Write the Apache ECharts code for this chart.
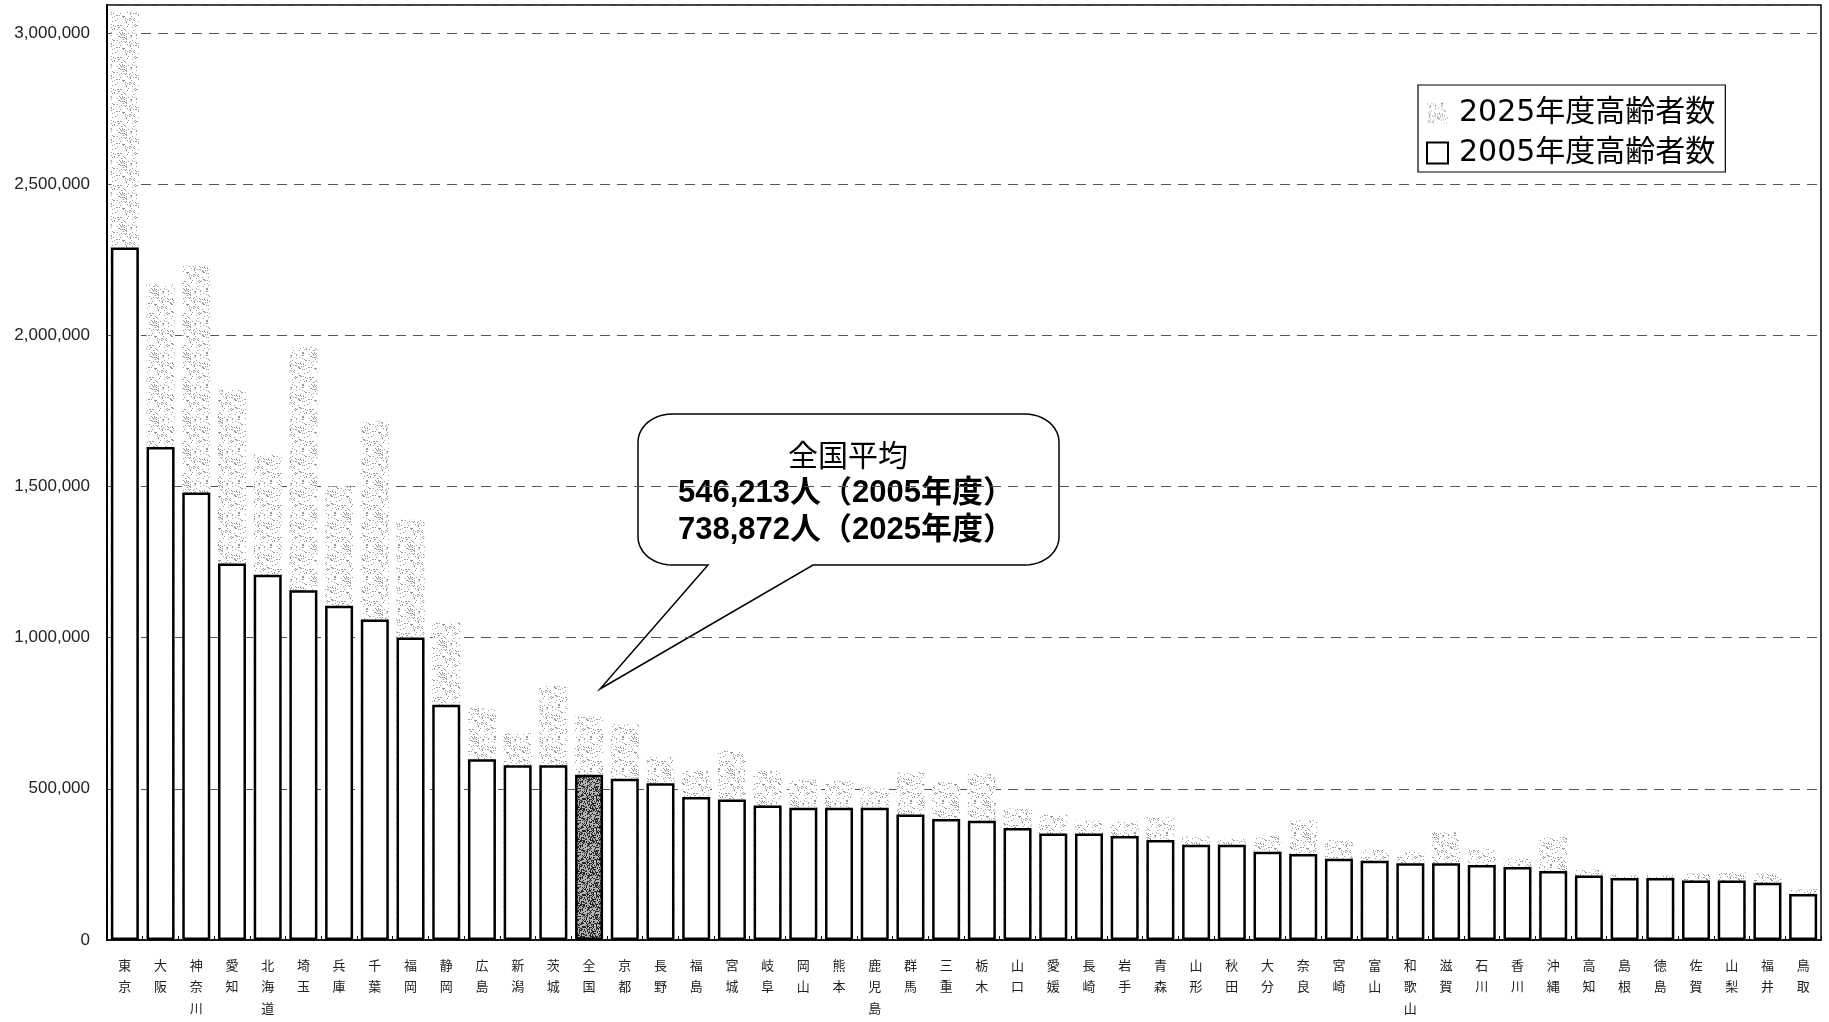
<!DOCTYPE html>
<html>
<head>
<meta charset="utf-8">
<script src="https://cdn.jsdelivr.net/npm/echarts@6/dist/echarts.min.js"></script>
<style>
  html, body { margin: 0; padding: 0; background: #fff; }
  #chart { width: 1829px; height: 1022px; }
</style>
</head>
<body>
<div id="chart"></div>
<script>
// 都道府県別 高齢者数（2005年度実績・2025年度推計）
const categories = ['東京','大阪','神奈川','愛知','北海道','埼玉','兵庫','千葉','福岡','静岡','広島','新潟','茨城','全国','京都','長野','福島','宮城','岐阜','岡山','熊本','鹿児島','群馬','三重','栃木','山口','愛媛','長崎','岩手','青森','山形','秋田','大分','奈良','宮崎','富山','和歌山','滋賀','石川','香川','沖縄','高知','島根','徳島','佐賀','山梨','福井','鳥取'];

const elderly2005 = [2290000,1630000,1480000,1245000,1208000,1157000,1105000,1060000,1000000,778000,598000,578000,578000,546213,533000,518000,473000,465000,445000,437000,437000,437000,415000,400000,394000,370000,352000,352000,344000,331000,315000,315000,292000,284000,269000,262000,254000,254000,248000,241000,228000,213000,205000,205000,197000,197000,189000,152000];

const elderly2025 = [3070000,2170000,2230000,1820000,1605000,1960000,1500000,1715000,1390000,1050000,767000,685000,840000,738872,715000,606000,560000,625000,560000,530000,525000,505000,555000,522000,550000,435000,414000,395000,392000,406000,342000,335000,345000,398000,330000,298000,292000,356000,302000,270000,340000,232000,215000,214000,220000,225000,220000,168000];

const seriesNames = ['2025年度高齢者数', '2005年度高齢者数'];
const yTicks = [0, 500000, 1000000, 1500000, 2000000, 2500000, 3000000];
const nationalLabel = '全国';
const nationalAvg2005 = 546213;
const nationalAvg2025 = 738872;

function withCommas(n) {
  return String(n).replace(/\B(?=(\d{3})+(?!\d))/g, ',');
}

// Stipple textures for the bar fills: an irregular dot screen on a tile
function stipple(size, base, dot, density, salt) {
  const c = document.createElement('canvas');
  c.width = size; c.height = size;
  const g = c.getContext('2d');
  g.fillStyle = base;
  g.fillRect(0, 0, size, size);
  g.fillStyle = dot;
  for (let y = 0; y < size; y++) {
    for (let x = 0; x < size; x++) {
      const h = ((x * 73856093) ^ (y * 19349663) ^ salt) >>> 0;
      if ((h % 1000) / 1000 < density) g.fillRect(x, y, 1, 1);
    }
  }
  return c;
}
const lightDots = stipple(32, '#ffffff', '#9a9a9a', 0.14, 83492791);
const darkDots = stipple(32, '#b4b4b4', '#262626', 0.45, 2654435761);
const lightFill = { image: lightDots, repeat: 'repeat' };
const darkFill = { image: darkDots, repeat: 'repeat' };

// Outline of the speech-bubble callout: rounded box with a wedge tail
function calloutOutline(left, top, right, bottom, rx, ry, tailA, tailB, tip) {
  const pts = [];
  function corner(cx, cy, a0, a1) {
    const steps = 12;
    for (let k = 0; k <= steps; k++) {
      const a = a0 + (a1 - a0) * k / steps;
      pts.push([cx + rx * Math.cos(a), cy + ry * Math.sin(a)]);
    }
  }
  corner(left + rx, top + ry, Math.PI, Math.PI * 1.5);
  corner(right - rx, top + ry, Math.PI * 1.5, Math.PI * 2);
  corner(right - rx, bottom - ry, 0, Math.PI * 0.5);
  pts.push([tailB, bottom]);
  pts.push(tip);
  pts.push([tailA, bottom]);
  corner(left + rx, bottom - ry, Math.PI * 0.5, Math.PI);
  return pts;
}

const chart = echarts.init(document.getElementById('chart'), null, { renderer: 'canvas' });

const CJK = '"Noto Sans CJK JP", "Noto Sans", sans-serif';

const option = {
  animation: false,
  backgroundColor: '#ffffff',
  grid: {
    left: 107, right: 8, top: 5, bottom: 82,
    show: true, borderColor: '#000', borderWidth: 1.5, backgroundColor: 'transparent'
  },
  legend: {
    orient: 'vertical',
    left: 1418, top: 85,
    icon: 'rect',
    itemWidth: 21, itemHeight: 21, itemGap: 6,
    padding: [11, 10, 2, 8],
    borderColor: '#000', borderWidth: 1.2, backgroundColor: '#fff',
    textStyle: {
      fontSize: 30, lineHeight: 34, color: '#000',
      fontFamily: '"DejaVu Sans", ' + CJK,
      padding: [0, 0, 0, 6]
    },
    data: [seriesNames[0], seriesNames[1]]
  },
  xAxis: {
    type: 'category',
    data: categories,
    axisLine: { lineStyle: { color: '#000', width: 1.5 } },
    axisTick: { show: true, inside: true, length: 4, lineStyle: { color: '#000' } },
    axisLabel: {
      interval: 0,
      margin: 14,
      fontSize: 13,
      lineHeight: 21.7,
      color: '#222',
      fontFamily: CJK,
      formatter: v => v.split('').join('\n')
    },
    splitLine: { show: false }
  },
  yAxis: {
    type: 'value',
    min: 0,
    max: 3092000,
    interval: 500000,
    axisLine: { show: true, lineStyle: { color: '#000', width: 2 } },
    axisTick: { show: false },
    axisLabel: {
      margin: 17,
      fontSize: 17,
      color: '#222',
      fontFamily: '"Liberation Sans", Arial, sans-serif',
      formatter: v => (yTicks.indexOf(v) >= 0 ? withCommas(v) : '')
    },
    splitLine: { show: true, lineStyle: { type: [10, 7], color: '#555', width: 1 } }
  },
  series: [
    {
      name: seriesNames[0],
      type: 'bar',
      data: elderly2025,
      barWidth: 28,
      barGap: '-100%',
      itemStyle: { color: lightFill },
      z: 2
    },
    {
      name: seriesNames[1],
      type: 'bar',
      data: elderly2005.map((v, i) =>
        categories[i] === nationalLabel ? { value: v, itemStyle: { color: darkFill } } : v),
      barWidth: 28,
      barGap: '-100%',
      itemStyle: { color: '#fff', borderColor: '#000', borderWidth: 2.5 },
      z: 3
    }
  ],
  graphic: [{
    type: 'group',
    z: 100,
    children: [
      {
        type: 'polygon',
        shape: { points: calloutOutline(638, 414, 1059, 565, 34, 28, 708, 813, [600, 689]) },
        style: { fill: '#fff', stroke: '#000', lineWidth: 1.5 }
      },
      {
        type: 'text', x: 848, y: 455,
        style: {
          text: nationalLabel + '平均',
          font: '30px ' + CJK, fill: '#000',
          textAlign: 'center', textVerticalAlign: 'middle'
        }
      },
      {
        type: 'text', x: 846, y: 493,
        style: {
          text: withCommas(nationalAvg2005) + '人（2005年度）',
          font: 'bold 31px "Liberation Sans", ' + CJK, fill: '#000',
          textAlign: 'center', textVerticalAlign: 'middle'
        }
      },
      {
        type: 'text', x: 846, y: 530,
        style: {
          text: withCommas(nationalAvg2025) + '人（2025年度）',
          font: 'bold 31px "Liberation Sans", ' + CJK, fill: '#000',
          textAlign: 'center', textVerticalAlign: 'middle'
        }
      }
    ]
  }]
};

chart.setOption(option);
</script>
</body>
</html>
